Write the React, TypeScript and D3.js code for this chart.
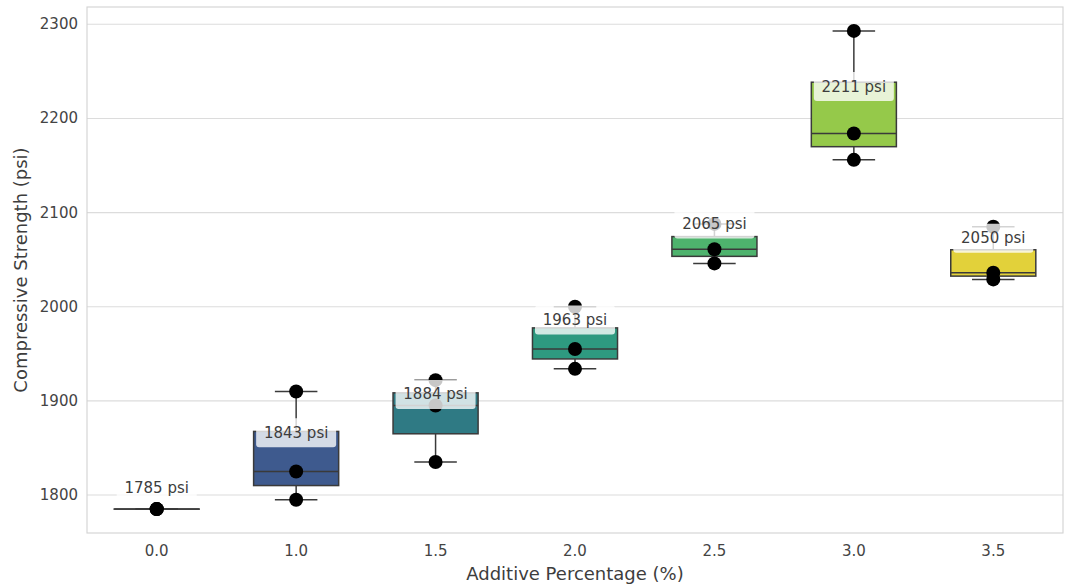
import React from 'react';
import * as d3 from 'd3';

// additive percentage groups and the three test cylinders of each
const categories = ['0.0', '1.0', '1.5', '2.0', '2.5', '3.0', '3.5'];
const samples: number[][] = [
  [1785, 1785, 1785],
  [1795, 1825, 1910],
  [1835, 1895, 1922],
  [1934, 1955, 2000],
  [2046, 2061, 2088],
  [2156, 2184, 2293],
  [2029, 2036, 2085],
];
const boxColors = ['#472a6f', '#3e5a8e', '#2f7a84', '#2e9a80', '#4eb36d', '#95c94a', '#e2d13a'];
const yTicks = [1800, 1900, 2000, 2100, 2200, 2300];

const W = 1065;
const H = 586;
const left = 87, right = 1063, top = 7, bottom = 533;
const font = 'DejaVu Sans, sans-serif';

const App = () => {
  const x = d3.scaleBand<string>().domain(categories).range([left, right]).padding(0);
  const y = d3.scaleLinear().domain([1759.6, 2318.4]).range([bottom, top]);
  const bw = x.bandwidth() * 0.61;
  const cw = bw / 2;

  const stats = samples.map((s, i) => {
    const v = s.slice().sort(d3.ascending);
    return {
      cat: categories[i],
      q1: d3.quantile(v, 0.25)!,
      med: d3.quantile(v, 0.5)!,
      q3: d3.quantile(v, 0.75)!,
      min: d3.min(v)!,
      max: d3.max(v)!,
      mean: d3.mean(v)!,
      vals: v,
      color: boxColors[i],
    };
  });

  const stroke = '#3a3a3a';

  return (
    <svg width={W} height={H} style={{ position: 'absolute', left: 0, top: 0, background: '#fff' }}>
      {/* grid */}
      {yTicks.map((t) => (
        <line key={t} x1={left} x2={right} y1={y(t)} y2={y(t)} stroke="#dcdcdc" strokeWidth={1.1} />
      ))}
      <rect x={left} y={top} width={right - left} height={bottom - top} fill="none" stroke="#d2d2d2" strokeWidth={1.1} />

      {/* boxes */}
      {stats.map((d) => {
        const cx = x(d.cat)! + x.bandwidth() / 2;
        return (
          <g key={d.cat}>
            <line x1={cx} x2={cx} y1={y(d.q1)} y2={y(d.min)} stroke={stroke} strokeWidth={1.5} />
            <line x1={cx} x2={cx} y1={y(d.q3)} y2={y(d.max)} stroke={stroke} strokeWidth={1.5} />
            <line x1={cx - cw / 2} x2={cx + cw / 2} y1={y(d.min)} y2={y(d.min)} stroke={stroke} strokeWidth={1.5} />
            <line x1={cx - cw / 2} x2={cx + cw / 2} y1={y(d.max)} y2={y(d.max)} stroke={stroke} strokeWidth={1.5} />
            <rect x={cx - bw / 2} y={y(d.q3)} width={bw} height={Math.max(0.01, y(d.q1) - y(d.q3))}
              fill={d.color} stroke={stroke} strokeWidth={1.5} />
            <line x1={cx - bw / 2} x2={cx + bw / 2} y1={y(d.med)} y2={y(d.med)} stroke={stroke} strokeWidth={1.5} />
          </g>
        );
      })}

      {/* sample points */}
      {stats.map((d) => {
        const cx = x(d.cat)! + x.bandwidth() / 2;
        return d.vals.map((v, j) => <circle key={d.cat + j} cx={cx} cy={y(v)} r={7} fill="#000" />);
      })}

      {/* mean labels */}
      {stats.map((d) => {
        const cx = x(d.cat)! + x.bandwidth() / 2;
        const cy = y(d.mean) - 22;
        return (
          <g key={'lab' + d.cat}>
            <rect x={cx - 40} y={cy - 14} width={80} height={29} rx={3} fill="#fff" fillOpacity={0.78} />
            <text x={cx} y={cy + 5.5} textAnchor="middle" fontFamily={font} fontSize={15} fill="#3d3d3d">
              {Math.round(d.mean)} psi
            </text>
          </g>
        );
      })}

      {/* axes text */}
      {yTicks.map((t) => (
        <text key={'yt' + t} x={78} y={y(t) + 5} textAnchor="end" fontFamily={font} fontSize={15} fill="#444">
          {t}
        </text>
      ))}
      {categories.map((c) => (
        <text key={'xt' + c} x={x(c)! + x.bandwidth() / 2} y={556} textAnchor="middle" fontFamily={font} fontSize={15} fill="#444">
          {c}
        </text>
      ))}
      <text x={(left + right) / 2} y={580} textAnchor="middle" fontFamily={font} fontSize={18} fill="#3d3d3d">
        Additive Percentage (%)
      </text>
      <text transform={`translate(27,${(top + bottom) / 2}) rotate(-90)`} textAnchor="middle" fontFamily={font} fontSize={18} fill="#3d3d3d">
        Compressive Strength (psi)
      </text>
    </svg>
  );
};

export default App;
